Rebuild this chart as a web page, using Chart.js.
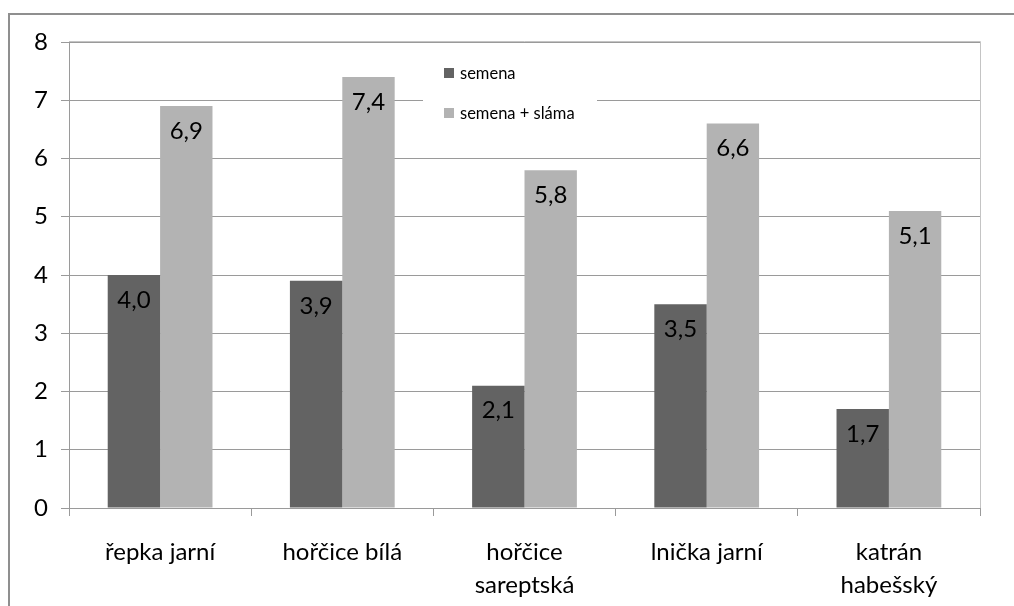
<!DOCTYPE html>
<html lang="cs">
<head>
<meta charset="utf-8">
<title>semena / semena + sláma</title>
<script src="https://cdn.jsdelivr.net/npm/chart.js@4/dist/chart.umd.min.js"></script>
<style>
  html, body { margin: 0; padding: 0; background: #fff; }
  #wrap { position: relative; width: 1014px; height: 606px; overflow: hidden; }
  #frame { position: absolute; left: 8px; top: 13px; width: 1100px; height: 700px;
           border-left: 2px solid #8f8f8f; border-top: 2px solid #8f8f8f; box-sizing: border-box; }
  canvas { position: absolute; left: 0; top: 0; }
</style>
</head>
<body>
<div id="wrap">
  <div id="frame"></div>
  <canvas id="c" width="1014" height="606"></canvas>
</div>
<script>
// Plodiny a hodnoty obou řad
const categories = ['řepka jarní', 'hořčice bílá', ['hořčice', 'sareptská'], 'lnička jarní', ['katrán', 'habešský']];
const seriesNames = ['semena', 'semena + sláma'];
const semena = [4.0, 3.9, 2.1, 3.5, 1.7];
const semenaSlama = [6.9, 7.4, 5.8, 6.6, 5.1];
const yTicks = [0, 1, 2, 3, 4, 5, 6, 7, 8];

const FONT = 'Lato, "Open Sans", sans-serif';
const GRID = '#9a9a9a';

const fmt = v => v.toFixed(1).replace('.', ',');

// Light frame around the plot area (drawn under the grid)
const plotFrame = {
  id: 'plotFrame',
  beforeDraw(chart) {
    const { ctx, chartArea: a } = chart;
    ctx.save();
    ctx.strokeStyle = '#c4c4c4';
    ctx.lineWidth = 1;
    ctx.beginPath();
    ctx.moveTo(a.left, Math.round(a.top) - 0.5);
    ctx.lineTo(Math.round(a.right) + 0.5, Math.round(a.top) - 0.5);
    ctx.lineTo(Math.round(a.right) + 0.5, a.bottom + 8);
    ctx.stroke();
    ctx.restore();
  }
};

// Value labels inside the top of each bar
const barValues = {
  id: 'barValues',
  afterDatasetsDraw(chart) {
    const { ctx } = chart;
    ctx.save();
    ctx.font = '24px ' + FONT;
    ctx.fillStyle = '#000';
    ctx.textAlign = 'center';
    ctx.textBaseline = 'middle';
    chart.data.datasets.forEach((ds, i) => {
      chart.getDatasetMeta(i).data.forEach((bar, j) => {
        ctx.fillText(fmt(ds.data[j]), bar.x, bar.y + 25);
      });
    });
    ctx.restore();
  }
};

// Legend box placed inside the plot, over the grid
const innerLegend = {
  id: 'innerLegend',
  afterDatasetsDraw(chart, args, opts) {
    const { ctx } = chart;
    ctx.save();
    ctx.fillStyle = '#fff';
    ctx.fillRect(opts.x, opts.y, opts.w, opts.h);
    ctx.font = '16.5px ' + FONT;
    ctx.textBaseline = 'middle';
    ctx.textAlign = 'left';
    chart.data.datasets.forEach((ds, i) => {
      const cy = opts.firstY + i * opts.rowGap;
      ctx.fillStyle = ds.backgroundColor;
      ctx.fillRect(opts.boxX, cy - 5, 10, 10);
      ctx.fillStyle = '#000';
      ctx.fillText(ds.label, opts.boxX + 16, cy + 1);
    });
    ctx.restore();
  }
};

new Chart(document.getElementById('c'), {
  type: 'bar',
  data: {
    labels: categories,
    datasets: [
      { label: seriesNames[0], data: semena, backgroundColor: '#636363' },
      { label: seriesNames[1], data: semenaSlama, backgroundColor: '#b3b3b3' }
    ]
  },
  plugins: [plotFrame, barValues, innerLegend],
  options: {
    responsive: false,
    animation: false,
    devicePixelRatio: 1,
    layout: { padding: { left: 0, top: 42, right: 34, bottom: 0 } },
    datasets: { bar: { categoryPercentage: 0.575, barPercentage: 1 } },
    plugins: {
      legend: { display: false },
      tooltip: { enabled: false },
      innerLegend: { x: 423, y: 56, w: 174, h: 74, boxX: 444, firstY: 73, rowGap: 40 }
    },
    scales: {
      x: {
        afterFit(s) { s.height = 98; },
        grid: { display: true, drawOnChartArea: false, drawTicks: true, tickLength: 8, color: GRID, offset: true },
        border: { display: true, color: GRID },
        ticks: { color: '#000', padding: 19, font: { family: FONT, size: 24, lineHeight: 1.4 }, maxRotation: 0, autoSkip: false }
      },
      y: {
        min: yTicks[0],
        max: yTicks[yTicks.length - 1],
        afterFit(s) { s.width = 69; },
        afterBuildTicks(s) { s.ticks = yTicks.map(v => ({ value: v })); },
        grid: { color: GRID, tickLength: 8, drawTicks: true },
        border: { display: true, color: GRID },
        ticks: { color: '#000', padding: 13, font: { family: FONT, size: 24 } }
      }
    }
  }
});
</script>
</body>
</html>
